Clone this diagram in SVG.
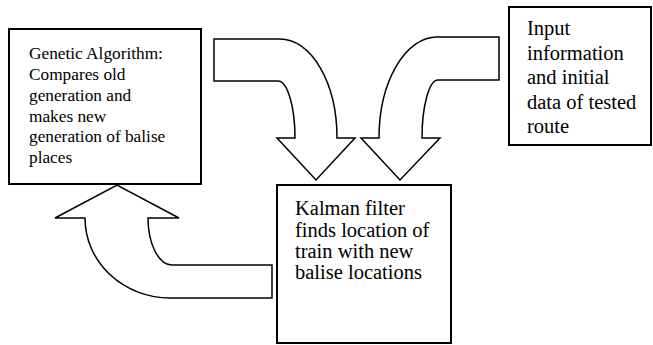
<svg xmlns="http://www.w3.org/2000/svg" width="653" height="345" viewBox="0 0 653 345">
<style>
.box{fill:#fff;stroke:#000;stroke-width:2}
.arr{fill:#fff;stroke:#000;stroke-width:1.5;stroke-linejoin:miter}
.t{font-family:'Liberation Serif','Times New Roman',Tinos,'DejaVu Serif',serif;fill:#000}
.g{font-size:17.3px}
.k{font-size:20.5px}
</style>
<rect width="653" height="345" fill="#fff"/>
<g id="connectors">
<path class="arr" d="M214,39 L280,39 A57,99 0 0 1 337,138 L355,138 L316,180 L277,138 L295,138 A17,57 0 0 0 278,81 L214,81 Z"/>
<path class="arr" d="M499,37 L437,37 A58,101 0 0 0 379,138 L361,138 L400,180 L440,138 L422,138 A16,58 0 0 1 438,80 L499,80 Z"/>
<path class="arr" d="M148,218 L179,218 L117,185 L55,218 L85,218 A85,80 0 0 0 170,298 L272,298 L272,265 L172,265 A24,47 0 0 1 148,218 Z"/>
</g>
<g id="genetic">
<rect class="box" x="9" y="29" width="192" height="155"/>
<g class="t g" font-family="Liberation Serif, serif">
<text x="29" y="59">Genetic Algorithm:</text>
<text x="29" y="80">Compares old</text>
<text x="29" y="101">generation and</text>
<text x="29" y="121.5">makes new</text>
<text x="29" y="142">generation of balise</text>
<text x="29" y="162.5">places</text>
</g>
</g>
<g id="input">
<rect class="box" x="509" y="7" width="142" height="138"/>
<g class="t k" font-family="Liberation Serif, serif">
<text x="527" y="35">Input</text>
<text x="527" y="59.5">information</text>
<text x="527" y="84">and initial</text>
<text x="527" y="108.5">data of tested</text>
<text x="527" y="133">route</text>
</g>
</g>
<g id="kalman">
<rect class="box" x="277" y="185" width="174" height="158"/>
<g class="t k" font-family="Liberation Serif, serif">
<text x="295" y="215">Kalman filter</text>
<text x="295" y="236.5">finds location of</text>
<text x="295" y="258">train with new</text>
<text x="295" y="279">balise locations</text>
</g>
</g>
</svg>
